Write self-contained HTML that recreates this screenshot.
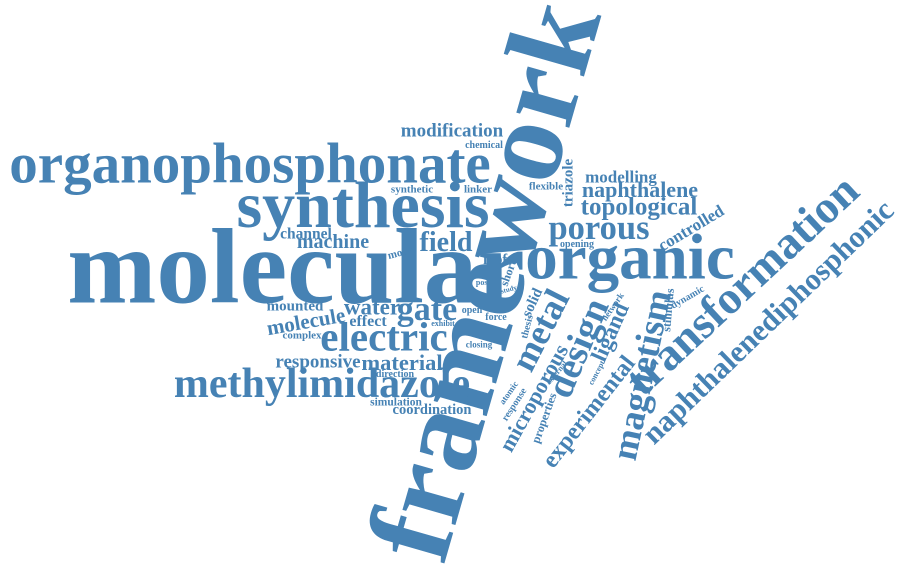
<!DOCTYPE html>
<html><head><meta charset="utf-8">
<style>
html,body{margin:0;padding:0;background:#fff;}
#cloud{position:relative;width:900px;height:573px;overflow:hidden;}
.w{position:absolute;white-space:nowrap;line-height:1;font-family:"Liberation Serif",serif;font-weight:bold;color:#4682b4;}
</style></head>
<body>
<div id="cloud"></div>
<script>
const words = ["framework","molecular","organophosphonate","synthesis","organic","methylimidazole","electric","gate","water","field","machine","channel","model","mounted","molecule","effect","complex","responsive","material","direction","simulation","coordination","mofs","short","post","study","open","force","exhibit","closing","thesis","solid","modification","chemical","synthetic","linker","flexible","triazole","modelling","naphthalene","topological","porous","opening","controlled","metal","design","ligand","magnetism","stimulus","dynamic","network","transformation","naphthalenediphosphonic","experimental","concept","external","microporous","properties","response","atomic"];
const sizes = [120,107,57,66,65,42,41,34,23,28,20,15.5,11,15,21,16,11,19,22.5,10,11.5,14.5,14.5,12,8,7,10,10,8,9,10,15,19,10,11,11,11,15,17,22,25,34.5,10,17,36,38,23,37,12,10,9,46,30.5,24,8,8,22,12,10,9];
const centers = [[484,280],[296,268],[250,164],[363,206],[630,258],[322,384],[384,337],[427,310],[372,307],[446,243],[333,242],[306,234],[402,253],[295,307],[306,322],[368,322],[302,336],[318,362],[402,363],[395,375],[396,403],[432,410],[498,260],[508,273],[483,283],[509,290],[472,311],[496,318],[443,324],[479,345],[528,327],[533,303],[452,131],[484,146],[412,190],[478,190],[546,187],[569,183],[621,177],[640,190],[639,207],[599,228],[577,245],[691,228],[540,330],[578,348],[610,332],[642,375],[668,310],[688,298],[613,307],[742,285],[768,322],[589,412],[597,373],[557,373],[534,398],[544,418],[515,405],[509,393]];
const angles = [-74,0,0,0,0,0,0,0,0,0,0,0,-15,0,-10,0,0,0,0,0,0,0,0,-70,0,-15,0,0,0,0,-75,-65,0,0,0,0,0,-90,0,0,0,0,0,-31,-63,-67,-66,-78,-85,-30,-55,-43,-44,-52,-62,-50,-61,-70,-57,-55];
const cloud = document.getElementById('cloud');
words.forEach((t,i)=>{
  const s=document.createElement('span');
  s.className='w';
  s.textContent=t;
  
  
  s.style.fontSize=sizes[i]+'px';
  s.style.left=centers[i][0]+'px';
  s.style.top=centers[i][1]+'px';
  s.style.transform='translate(-50%,-50%) rotate('+angles[i]+'deg)';
  cloud.appendChild(s);
});
</script>
</body></html>
